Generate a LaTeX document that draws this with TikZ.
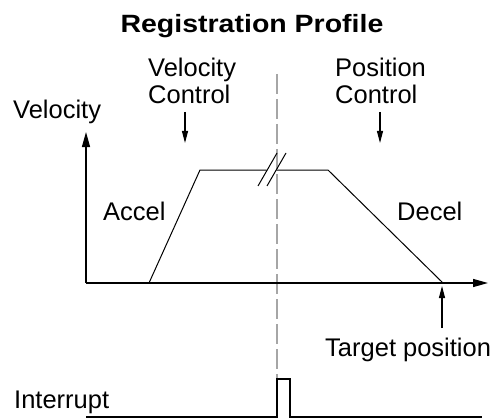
\documentclass[tikz,border=0pt]{standalone}
\usepackage{fontspec}
\setmainfont{Liberation Sans}
\usetikzlibrary{arrows.meta}
\begin{document}
\begin{tikzpicture}[x=1pt,y=-1pt,
  lbl/.style={inner sep=0pt,anchor=base west,font=\fontsize{25.5}{27}\selectfont},
  ttl/.style={inner sep=0pt,anchor=base,font=\fontsize{25}{28}\bfseries\addfontfeature{FakeStretch=1.14}\selectfont},
  axis/.style={line width=1.3pt,-{Triangle[length=15pt,width=8pt]}},
  pointer/.style={line width=1.1pt,-{Triangle[length=12pt,width=6pt]}},
  curve/.style={line width=1pt},
  guide/.style={line width=1.2pt,gray!70,dash pattern=on 20pt off 5pt},
  signal/.style={line width=1.3pt}]
\useasboundingbox (0,0) rectangle (504,420);
% texts
\node[ttl] (title) at (252,33) {Registration Profile};
\node[lbl] (vel) at (13,118.5) {Velocity};
\node[lbl,align=left,anchor=base west] (vc) at (148,103.5) {Velocity\\Control};
\node[lbl,align=left,anchor=base west] (pc) at (335,103.5) {Position\\Control};
\node[lbl] (acc) at (103,220) {Accel};
\node[lbl] (dec) at (397,220) {Decel};
\node[lbl] (tgt) at (325,356.5) {Target position};
\node[lbl] (intr) at (14,408) {Interrupt};
% coordinates
\coordinate (O) at (86,283);
\coordinate (Ytip) at (86,132);
\coordinate (Xtip) at (488,283);
\coordinate (p0) at (149,283);
\coordinate (p1) at (200,170);
\coordinate (bl) at (266.7,170);
\coordinate (br) at (276.5,170);
\coordinate (p2) at (328,170);
\coordinate (p3) at (443,283);
\coordinate (vcs) at (185,112);
\coordinate (vce) at (185,143);
\coordinate (pcs) at (380,112);
\coordinate (pce) at (380,143);
\coordinate (ts) at (442,328);
\coordinate (te) at (442,286);
\coordinate (g0) at (277,74);
\coordinate (g1) at (277,379);
\coordinate (i0) at (86,417);
\coordinate (i1) at (277,417);
\coordinate (i2) at (290,417);
\coordinate (i3) at (482,417);
% guide line
\draw[guide] (g0) -- (g1);
% axes
\draw[axis] (O) -- (Ytip);
\draw[axis] (O) -- (Xtip);
% profile
\draw[curve] (p0) -- (p1) -- (bl);
\draw[curve] (br) -- (p2) -- (p3);
\draw[curve] (258,186) -- (277,153);
\draw[curve] (267,186) -- (286,153);
% pointers
\draw[pointer] (vcs) -- (vce);
\draw[pointer] (pcs) -- (pce);
\draw[pointer] (ts) -- (te);
% interrupt signal
\draw[signal] (i0) -- (i1) -- (g1) -- (i2 |- g1) -- (i2) -- (i3);
\end{tikzpicture}
\end{document}
